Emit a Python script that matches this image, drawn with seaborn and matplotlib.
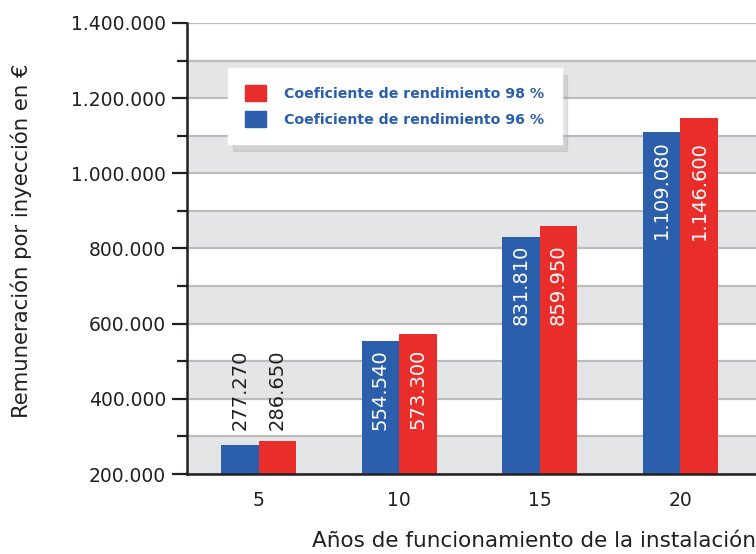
import pandas as pd
import matplotlib
matplotlib.use("Agg")
import matplotlib.pyplot as plt
import matplotlib.ticker as mticker
import seaborn as sns

# data
years = ["5", "10", "15", "20"]
coef_96 = [277270, 554540, 831810, 1109080]
coef_98 = [286650, 573300, 859950, 1146600]
series = ["Coeficiente de rendimiento 96 %", "Coeficiente de rendimiento 98 %"]

blue = "#2b5fab"
red = "#e92d2b"

df = pd.DataFrame({
    "anos": years * 2,
    "valor": coef_96 + coef_98,
    "serie": [series[0]] * 4 + [series[1]] * 4,
})

sns.set_style("white")
plt.rcParams["font.family"] = ["DejaVu Sans"]

fig = plt.figure(figsize=(7.56, 5.54), dpi=100)
ax = fig.add_axes([0.247, 0.1444, 0.753, 0.8141])
ax.set_facecolor("white")

sns.barplot(data=df, x="anos", y="valor", hue="serie", hue_order=series,
            palette=[blue, red], width=0.535, saturation=1, ax=ax, zorder=2,
            legend=False, linewidth=0)

ax.set_ylim(200000, 1400000)
ax.set_xlim(-0.513, 3.54)

# alternating bands + grid lines
for lo in [200000, 400000, 600000, 800000, 1000000, 1200000]:
    ax.fill_between([-1, 5], lo, lo + 100000, color="#e4e5e7", lw=0, zorder=0.1)
for y in range(200000, 1400001, 100000):
    ax.axhline(y, color="#bcbcbc", lw=1.6, zorder=0.5)

# value labels, aligned on the lower bar of each group
fmt = lambda v: f"{v:,}".replace(",", ".")
for i, (b96, b98) in enumerate(zip(ax.containers[0], ax.containers[1])):
    base = coef_96[i]
    for bar, v in [(b96, coef_96[i]), (b98, coef_98[i])]:
        xc = bar.get_x() + bar.get_width() / 2
        if i == 0:
            ax.annotate(fmt(v), (xc, base), xytext=(0, 11), textcoords="offset points",
                        rotation=90, ha="center", va="bottom", fontsize=14,
                        color="#231f20", zorder=3)
        else:
            ax.annotate(fmt(v), (xc, base), xytext=(0, -6), textcoords="offset points",
                        rotation=90, ha="center", va="top", fontsize=14,
                        color="white", zorder=3)

ax.yaxis.set_major_locator(mticker.MultipleLocator(200000))
ax.yaxis.set_minor_locator(mticker.MultipleLocator(100000))
ax.yaxis.set_major_formatter(mticker.FuncFormatter(lambda v, p: fmt(int(v))))
ax.tick_params(axis="y", which="major", direction="out", length=11, width=1.6,
               color="#231f20", labelsize=13.5, labelcolor="#231f20", pad=4, left=True)
ax.tick_params(axis="y", which="minor", direction="out", length=7, width=1.6,
               color="#231f20", left=True)
ax.tick_params(axis="x", length=0, labelsize=13.5, labelcolor="#231f20", pad=12)

for s in ["top", "right"]:
    ax.spines[s].set_visible(False)
for s in ["left", "bottom"]:
    ax.spines[s].set_linewidth(1.8)
    ax.spines[s].set_color("#231f20")
    ax.spines[s].set_zorder(4)

ax.set_ylabel("Remuneración por inyección en €", fontsize=15.3, color="#231f20")
ax.yaxis.set_label_coords(-0.272, 0.518)
ax.set_xlabel("Años de funcionamiento de la instalación", fontsize=15.5,
              color="#231f20", loc="right", labelpad=15)

# legend (98 % first)
handles = [plt.Rectangle((0, 0), 1, 1, color=red), plt.Rectangle((0, 0), 1, 1, color=blue)]
leg = ax.legend(handles, [series[1], series[0]], loc="upper left",
                bbox_to_anchor=(0.072, 0.90), frameon=True, fancybox=False,
                shadow={"color": "#a0a0a0", "alpha": 0.28, "ox": 4, "oy": -5},
                facecolor="white", edgecolor="white", framealpha=1,
                borderpad=1.2, handlelength=1.5, handleheight=1.4,
                handletextpad=1.3, labelspacing=0.65, borderaxespad=0,
                prop={"weight": "bold", "size": 10.2})
for t in leg.get_texts():
    t.set_color("#2b5fab")
leg.set_zorder(5)

fig.savefig("out.png", dpi=100)
